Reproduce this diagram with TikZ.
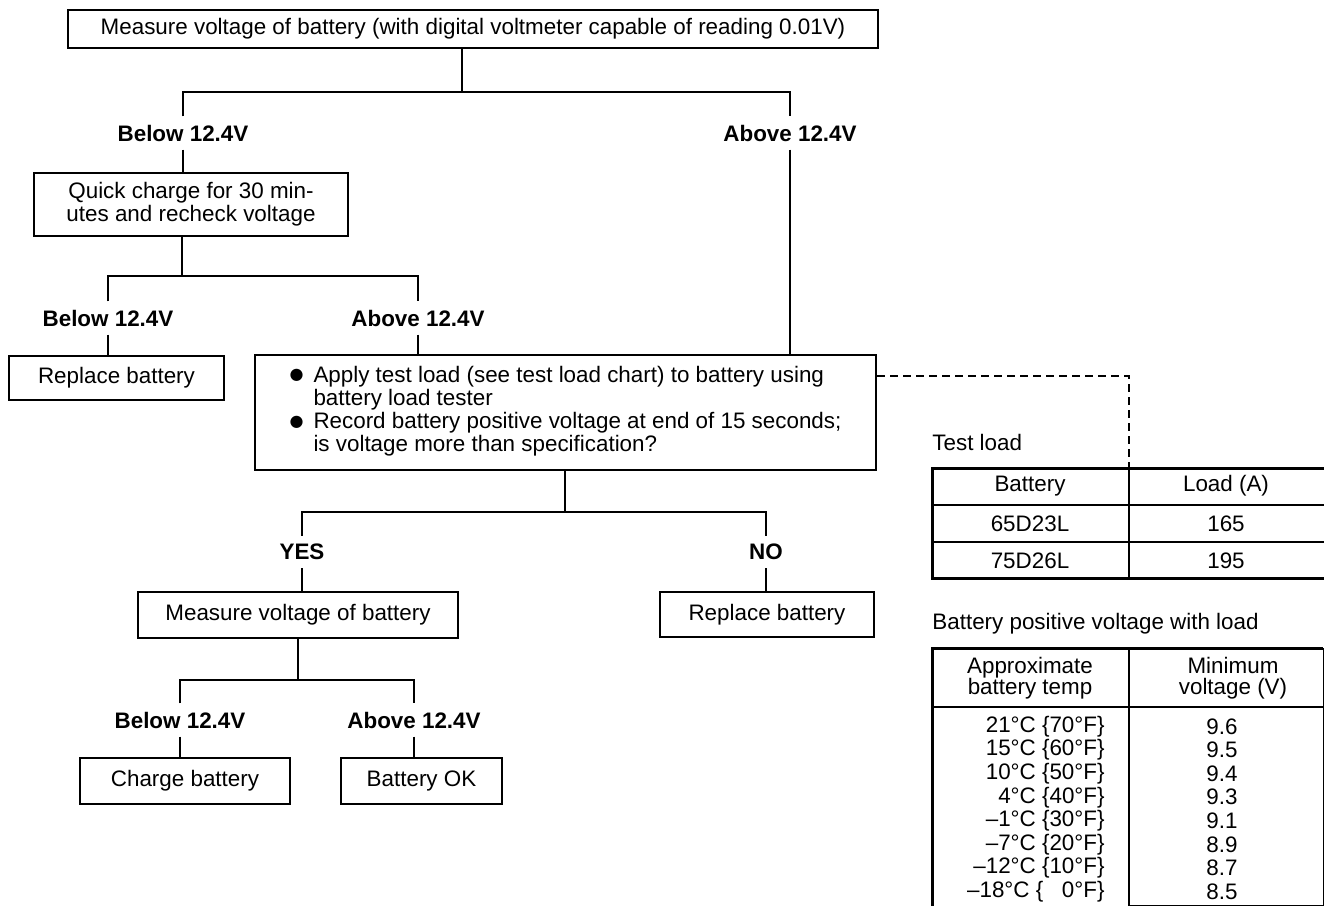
\documentclass[tikz,border=0pt]{standalone}
\usepackage{fontspec}
\setmainfont{Liberation Sans}
\newfontfamily\symfont{DejaVu Sans}
\usepackage{tikz}
\newcommand{\blt}{\raisebox{0.12em}{\symfont\fontsize{8}{8}\selectfont ●}}

\begin{document}
\begin{tikzpicture}[x=0.5pt, y=-0.5pt,
  every node/.style={font=\fontsize{11.2}{11.6}\selectfont},
  box/.style={draw, line width=1pt, inner sep=0pt},
  lbl/.style={font=\fontsize{11.2}{11.6}\selectfont\bfseries, inner sep=4pt},
  link/.style={line width=1pt},
  cell/.style={inner sep=0pt}]
\useasboundingbox (0,0) rectangle (1324,906);

% flow chart
\node[box, minimum width=405pt, minimum height=19pt] (measA) at (473,29) {Measure voltage of battery (with digital voltmeter capable of reading 0.01V)};
\node[lbl] (lowA) at (183,133) {Below 12.4V};
\node[lbl] (highA) at (790,133) {Above 12.4V};
\node[box, minimum width=157pt, minimum height=31.5pt, align=center] (quick) at (191,204.5) {Quick charge for 30 min-\\utes and recheck voltage};
\node[lbl] (lowB) at (108,318) {Below 12.4V};
\node[lbl] (highB) at (418,318) {Above 12.4V};
\node[box, minimum width=107.5pt, minimum height=22pt] (replA) at (116.5,378) {Replace battery};
\node[box, minimum width=310.5pt, minimum height=57.5pt, align=left] (test) at (565.5,412.5) {%
  \begin{tabular}{@{}l@{\hspace{5pt}}l@{}}
  \blt & Apply test load (see test load chart) to battery using\\
       & battery load tester\\
  \blt & Record battery positive voltage at end of 15 seconds;\\
       & is voltage more than specification?
  \end{tabular}};
\node[lbl] (yes) at (302,552) {YES};
\node[lbl] (no) at (766,552) {NO};
\node[box, minimum width=160pt, minimum height=23pt] (measB) at (298,615) {Measure voltage of battery};
\node[box, minimum width=107pt, minimum height=22.5pt] (replB) at (767,614.5) {Replace battery};
\node[lbl] (lowC) at (180,720) {Below 12.4V};
\node[lbl] (highC) at (414,720) {Above 12.4V};
\node[box, minimum width=105pt, minimum height=23pt] (charge) at (185,781) {Charge battery};
\node[box, minimum width=80.5pt, minimum height=23pt] (okay) at (421.5,781) {Battery OK};

\coordinate (j1) at (462,92);
\draw[link] (measA.south -| j1) -- (j1);
\draw[link] (lowA.north) |- (j1) -| (highA.north);
\draw[link] (lowA.south) -- (lowA.south |- quick.north);
\draw[link] (highA.south) -- (highA.south |- test.north);

\coordinate (j2) at (182,276);
\draw[link] (quick.south -| j2) -- (j2);
\draw[link] (lowB.north) |- (j2) -| (highB.north);
\draw[link] (lowB.south) -- (lowB.south |- replA.north);
\draw[link] (highB.south) -- (highB.south |- test.north);

\coordinate (j3) at (565,512);
\draw[link] (test.south -| j3) -- (j3);
\draw[link] (yes.north) |- (j3) -| (no.north);
\draw[link] (yes.south) -- (yes.south |- measB.north);
\draw[link] (no.south) -- (no.south |- replB.north);

\coordinate (j4) at (298,680);
\draw[link] (measB.south -| j4) -- (j4);
\draw[link] (lowC.north) |- (j4) -| (highC.north);
\draw[link] (lowC.south) -- (lowC.south |- charge.north);
\draw[link] (highC.south) -- (highC.south |- okay.north);

% test load chart
\coordinate (dash) at (1129,376);
\coordinate (tlTop) at (1129,468);
\draw[link, dash pattern=on 4pt off 2.5pt] (test.east |- dash) -- (dash) -- (tlTop);
\node[cell, anchor=west] (tlTitle) at (932,442) {Test load};
\draw[line width=1.5pt] (1324,468) -- (932,468) -- (932,578) -- (1324,578);
\draw[link] (932,505) -- (1324,505) (932,542) -- (1324,542) (tlTop) -- (1129,578);
\node[cell] (tlHeadA) at (1030,486) {Battery};
\node[cell] (tlHeadB) at (1226,486) {Load (A)};
\node[cell] (tlBatA) at (1030,524) {65D23L};
\node[cell] (tlLoadA) at (1226,524) {165};
\node[cell] (tlBatB) at (1030,561) {75D26L};
\node[cell] (tlLoadB) at (1226,561) {195};

% battery positive voltage chart
\node[cell, anchor=west] (bvTitle) at (932,624) {Battery positive voltage with load};
\draw[line width=1.5pt] (1323,648) -- (932,648) -- (932,906);
\draw[link] (932,707) -- (1323,707) (1129,648) -- (1129,906);
\draw[line width=0.5pt] (1323,648) -- (1323,905) -- (1129,905);
\node[cell, align=center, font=\fontsize{11.2}{10.6}\selectfont] (bvHeadA) at (1030,678) {Approximate\\battery temp};
\node[cell, align=center, font=\fontsize{11.2}{10.6}\selectfont] (bvHeadB) at (1233,678) {Minimum\\voltage (V)};
\node[cell, align=right, anchor=east, font=\fontsize{11.2}{11.8}\selectfont] (bvTemp) at (1105,809) {21°C \{70°F\}\\15°C \{60°F\}\\10°C \{50°F\}\\4°C \{40°F\}\\–1°C \{30°F\}\\–7°C \{20°F\}\\–12°C \{10°F\}\\–18°C \{\hphantom{0}\ 0°F\}};
\node[cell, align=center, font=\fontsize{11.2}{11.8}\selectfont] (bvVolt) at (1222,809) {9.6\\9.5\\9.4\\9.3\\9.1\\8.9\\8.7\\8.5};
\end{tikzpicture}
\end{document}
